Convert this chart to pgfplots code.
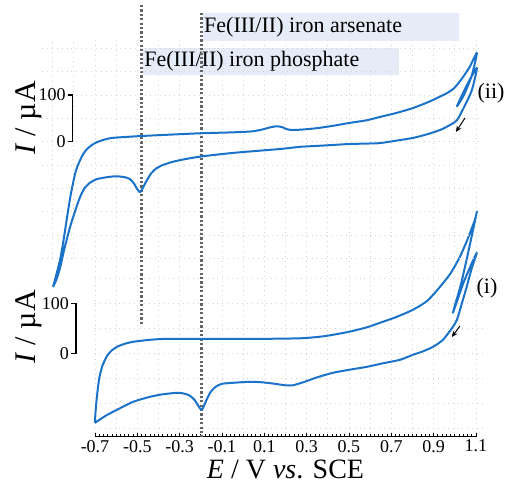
\documentclass[border=0pt]{standalone}
\usepackage{pgfplots}
\pgfplotsset{compat=1.18}
\usepackage{fontspec}
\setmainfont{Liberation Serif}
\usetikzlibrary{arrows.meta}
\definecolor{cvblue}{RGB}{26,115,201}
\definecolor{boxfill}{RGB}{230,236,247}
\definecolor{gridc}{RGB}{212,212,212}
\definecolor{dotc}{RGB}{100,100,100}

\pgfplotstableread{
V I
-0.700 -139
-0.698 -120
-0.691 -87
-0.680 -50
-0.665 -25
-0.643 -5
-0.620 6
-0.596 13
-0.560 19
-0.520 23
-0.440 27
-0.360 29
-0.204 29
-0.048 29
0.112 29
0.268 30
0.360 33
0.424 37
0.500 43
0.585 52
0.646 61
0.720 72
0.802 87
0.870 105
0.930 133
0.980 160
1.024 193
1.060 228
1.095 267
1.104 283
1.070 215
1.030 140
0.991 81
1.040 140
1.080 180
1.104 201
1.080 170
1.052 127
1.030 95
1.010 67
0.991 53
0.944 27
0.897 13
0.850 4
0.802 -3
0.741 -13
0.660 -20
0.585 -27
0.500 -33
0.424 -39
0.350 -48
0.290 -57
0.235 -64
0.200 -64
0.150 -61
0.090 -58
0.030 -57
-0.048 -59
-0.100 -61
-0.130 -67
-0.155 -78
-0.175 -95
-0.195 -113
-0.212 -105
-0.230 -93
-0.255 -84
-0.285 -80
-0.313 -79
-0.380 -82
-0.440 -87
-0.520 -97
-0.596 -113
-0.650 -125
-0.700 -139
}\cvone

\pgfplotstableread{
V I
-0.898 -311
-0.880 -280
-0.865 -253
-0.850 -215
-0.832 -162
-0.818 -122
-0.804 -89
-0.790 -62
-0.771 -40
-0.755 -26
-0.738 -16
-0.715 -7
-0.690 -1
-0.660 4
-0.620 8
-0.560 10
-0.487 12
-0.350 15
-0.204 18
-0.050 20
0.040 22
0.090 26
0.130 31
0.160 33
0.185 31
0.205 27
0.230 25
0.280 26
0.349 29
0.424 34
0.500 40
0.585 46
0.646 53
0.720 61
0.802 72
0.880 86
0.963 104
1.000 116
1.038 138
1.070 160
1.104 190
1.081 143
1.043 100
1.010 76
1.057 121
1.104 158
1.081 111
1.048 78
1.010 46
0.970 34
0.930 25
0.870 16
0.802 8
0.720 2
0.646 -3
0.585 -4
0.500 -5
0.424 -7
0.350 -9
0.268 -11
0.190 -15
0.112 -18
0.030 -21
-0.048 -24
-0.130 -28
-0.204 -32
-0.270 -37
-0.332 -43
-0.380 -50
-0.410 -57
-0.435 -68
-0.458 -85
-0.475 -100
-0.487 -108
-0.500 -102
-0.515 -90
-0.535 -80
-0.560 -76
-0.600 -74
-0.643 -76
-0.690 -80
-0.724 -88
-0.750 -100
-0.771 -119
-0.795 -150
-0.818 -183
-0.845 -230
-0.865 -270
-0.882 -295
-0.898 -311
}\cvtwo

\begin{document}
\begin{tikzpicture}
\useasboundingbox (-47.5pt,-23.65pt) rectangle (205pt,218.35pt);
\begin{axis}[
  at={(0pt,0pt)}, anchor=south west,
  scale only axis, width=190.5pt, height=218.35pt,
  xmin=-0.7, xmax=1.1, ymin=-166.8, ymax=706.6,
  clip=false,
  axis x line*=bottom, axis y line=none,
  axis line style={-, black, line width=0.6pt},
  ytick=\empty,
  xtick={-0.7,-0.5,-0.3,-0.1,0.1,0.3,0.5,0.7,0.9,1.1},
  xticklabels={-0.7,-0.5,-0.3,-0.1,0.1,0.3,0.5,0.7,0.9,1.1},
  minor tick num=9,
  tick align=inside,
  major tick length=2.5pt, minor tick length=1.5pt,
  tick style={black, line width=0.4pt},
  xticklabel style={font=\fontsize{9}{10}\selectfont, inner sep=1.5pt},
  xlabel={\textit{E} / V \textit{vs}. SCE},
  xlabel style={font=\fontsize{14}{16}\selectfont, at={(axis description cs:0.5,0)}, anchor=center, yshift=-16.5pt},
]
% light grid, vertical
\pgfplotsinvokeforeach{-0.7,-0.6,-0.5,-0.4,-0.3,-0.2,-0.1,0,0.1,0.2,0.3,0.4,0.5,0.6,0.7,0.8,0.9,1.0,1.1}{
  \draw[gridc, dotted, line width=0.45pt] (axis cs:#1,-160) -- (axis cs:#1,626);
}
\pgfplotsinvokeforeach{-0.9,-0.8}{
  \draw[gridc, dotted, line width=0.45pt] (axis cs:#1,190) -- (axis cs:#1,626);
}
\pgfplotsinvokeforeach{-150,-100,-50,0,50,100,150}{
  \draw[gridc, dotted, line width=0.45pt] (axis cs:-0.7,#1) -- (axis cs:1.15,#1);
}
% label boxes
\fill[boxfill] (axis cs:-0.190,680.6) rectangle (axis cs:1.019,624.6);
\fill[boxfill] (axis cs:-0.473,610.6) rectangle (axis cs:0.736,556.6);
\node[anchor=west, inner sep=0pt, font=\fontsize{11}{13}\selectfont] at (axis cs:-0.186,652.6) {Fe(III/II) iron arsenate};
\node[anchor=west, inner sep=0pt, font=\fontsize{11}{13}\selectfont] at (axis cs:-0.469,583.6) {Fe(III/II) iron phosphate};
% dotted reference lines
\draw[dotc, line width=1.5pt, dash pattern=on 1.1pt off 1.1pt] (axis cs:-0.479,696.6) -- (axis cs:-0.479,56.6);
\draw[dotc, line width=1.5pt, dash pattern=on 1.1pt off 1.1pt] (axis cs:-0.199,680.6) -- (axis cs:-0.199,-166.8);
% curve (i)
\addplot[cvblue, line width=1pt, line join=round, smooth, tension=0.4] table[x=V, y=I] {\cvone};
% scale bar (i)
\draw[black, line width=0.7pt] (axis cs:-0.812,0) -- (axis cs:-0.790,0) -- (axis cs:-0.790,100) -- (axis cs:-0.812,100);
\node[anchor=east, inner sep=1pt, font=\fontsize{9}{10}\selectfont] at (axis cs:-0.812,100) {100};
\node[anchor=east, inner sep=1pt, font=\fontsize{9}{10}\selectfont] at (axis cs:-0.812,0) {0};
\node[rotate=90, font=\fontsize{15}{17}\selectfont] at (axis cs:-1.012,52.6) {\textit{I} / µA};
\node[font=\fontsize{11}{13}\selectfont] at (axis cs:1.152,130.6) {(i)};
\draw[-{Stealth[length=3pt,width=2.6pt]}, black, line width=0.5pt] (axis cs:1.024,54.6) -- (axis cs:0.986,32.6);
% labels for (ii)
\node[rotate=90, font=\fontsize{15}{17}\selectfont] at (axis cs:-1.012,470.6) {\textit{I} / µA};
\node[font=\fontsize{11}{13}\selectfont] at (axis cs:1.171,520.6) {(ii)};
\end{axis}
\begin{axis}[
  at={(0pt,0pt)}, anchor=south west,
  scale only axis, width=190.5pt, height=218.35pt,
  xmin=-0.7, xmax=1.1, ymin=-631.7, ymax=303.4,
  clip=false, hide axis,
]
\pgfplotsinvokeforeach{-250,-200,-150,-100,-50,0,50,100,150,200}{
  \draw[gridc, dotted, line width=0.45pt] (axis cs:-0.95,#1) -- (axis cs:1.12,#1);
}
\addplot[cvblue, line width=1pt, line join=round, smooth, tension=0.4] table[x=V, y=I] {\cvtwo};
\draw[black, line width=0.7pt] (axis cs:-0.828,0) -- (axis cs:-0.805,0) -- (axis cs:-0.805,100) -- (axis cs:-0.828,100);
\node[anchor=east, inner sep=1pt, font=\fontsize{9}{10}\selectfont] at (axis cs:-0.828,100) {100};
\node[anchor=east, inner sep=1pt, font=\fontsize{9}{10}\selectfont] at (axis cs:-0.828,0) {0};
\draw[-{Stealth[length=3pt,width=2.6pt]}, black, line width=0.5pt] (axis cs:1.048,50.7) -- (axis cs:1.005,20.8);
\end{axis}
\end{tikzpicture}
\end{document}
